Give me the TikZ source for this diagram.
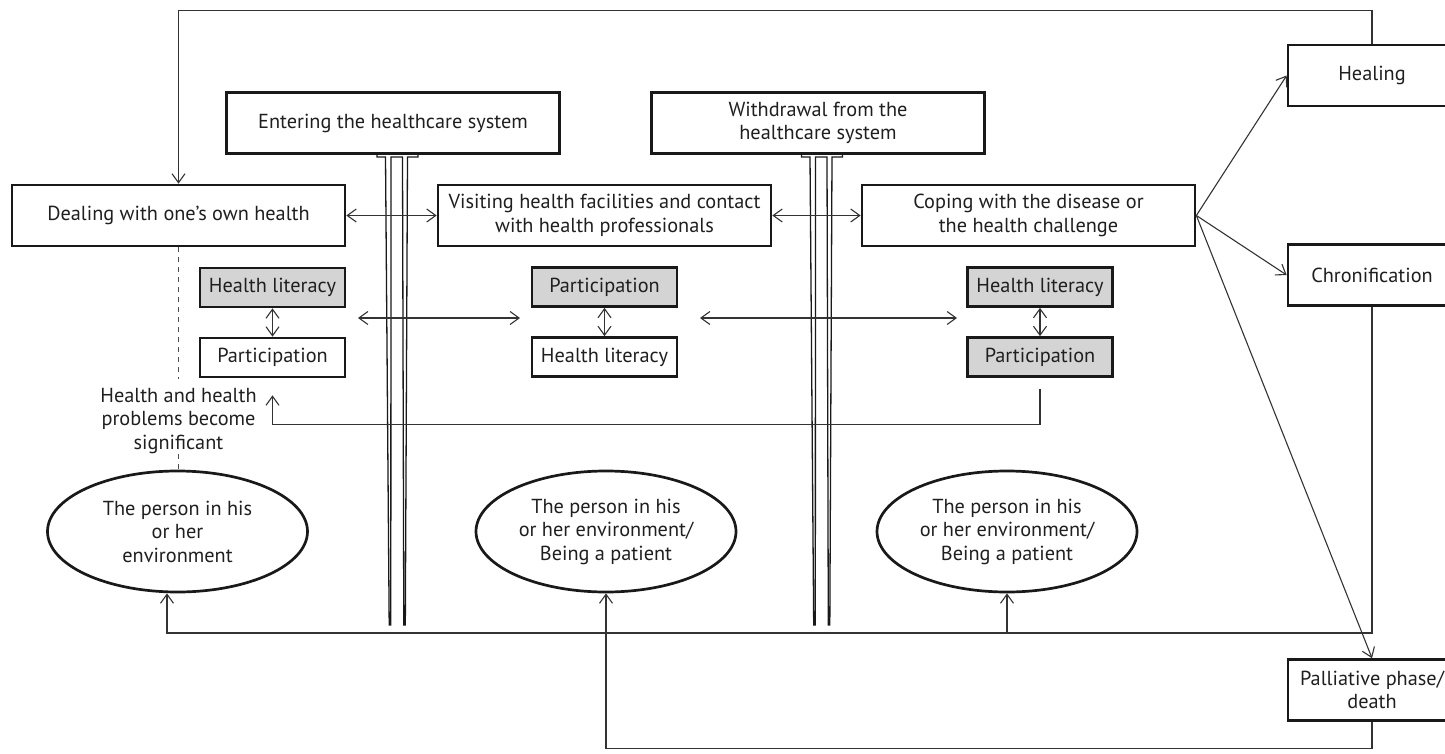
\documentclass[tikz,border=0pt]{standalone}
\usepackage{fontspec}
\setmainfont{PT Sans}
\usetikzlibrary{shapes.geometric,arrows.meta}

\begin{document}
\begin{tikzpicture}[x=1pt,y=-1pt,
    font=\fontsize{20.3}{23.5}\selectfont,
    >={Straight Barb[length=9pt,width=13pt]},
    stagebox/.style={draw=black!90,line width=2.7pt,text=black!88,align=center,
      minimum width=333pt,minimum height=61pt,inner sep=0pt},
    sidebox/.style={stagebox,minimum width=168pt},
    skillbox/.style={draw=black!90,line width=2.7pt,text=black!88,
      minimum width=145pt,minimum height=39pt,inner sep=0pt},
    greyfill/.style={fill=black!17},
    person/.style={ellipse,draw=black!90,line width=2.7pt,text=black!88,align=center,
      minimum width=260pt,minimum height=121pt,inner sep=0pt},
    conn/.style={draw=black!80,line width=1.1pt},
    cue/.style={draw=black!70,line width=1pt,dash pattern=on 5pt off 5pt},
    pillar/.style={draw=black!90,line width=1.3pt,fill=white}]
  \useasboundingbox (0,0) rectangle (1445,754);

  % the two gates into and out of the healthcare system
  \foreach \px in {397.5,822}
    \draw[pillar] (\px-20.5,153) -- (\px-20.5,157) -- (\px-12,157) -- (\px-8.3,625)
      -- (\px-6.7,625) -- (\px-6.5,157) -- (\px+5,157) -- (\px+6.3,625)
      -- (\px+7.8,625) -- (\px+10,157) -- (\px+20.5,157) -- (\px+20.5,153) -- cycle;

  % stages
  \node[stagebox] (enter) at (393,123) {Entering the healthcare system};
  \node[stagebox] (withdraw) at (818,123) {Withdrawal from the\\healthcare system};
  \node[stagebox] (deal) at (178.5,215.5) {Dealing with one’s own health};
  \node[stagebox] (visit) at (604.5,215.5) {Visiting health facilities and contact\\with health professionals};
  \node[stagebox] (cope) at (1028.5,215.5) {Coping with the disease or\\the health challenge};

  % outcomes
  \node[sidebox] (heal) at (1372,75.5) {Healing};
  \node[sidebox] (chron) at (1372,275) {Chronification};
  \node[sidebox] (pall) at (1372,690) {Palliative phase/\\death};

  % health literacy and participation
  \node[skillbox,greyfill] (hl1) at (272.5,287.5) {Health literacy};
  \node[skillbox] (pa1) at (272.5,357.5) {Participation};
  \node[skillbox,greyfill] (pa2) at (604.5,287) {Participation};
  \node[skillbox] (hl2) at (604.5,357) {Health literacy};
  \node[skillbox,greyfill] (hl3) at (1040,287) {Health literacy};
  \node[skillbox,greyfill] (pa3) at (1040,357) {Participation};

  \node[align=center,text=black!88,inner ysep=0pt] (signif) at (178.5,421) {Health and health\\problems become\\significant};

  % the person
  \node[person] (env1) at (177.5,531.5) {The person in his\\or her\\environment};
  \node[person] (env2) at (606,531.5) {The person in his\\or her environment/\\Being a patient};
  \node[person] (env3) at (1007,531.5) {The person in his\\or her environment/\\Being a patient};

  \coordinate (lnk1) at (358,318);
  \coordinate (lnk2) at (520,318);
  \coordinate (lnk3) at (700,318);
  \coordinate (lnk4) at (957,318);
  \coordinate (ret) at (167,633);

  % connectors
  \draw[conn,->] (heal.north) -- ++(0,-33) -| (deal.north);
  \draw[conn,<->] (deal.east) -- (visit.west);
  \draw[conn,<->] (visit.east) -- (cope.west);
  \draw[conn,->] (cope.east) -- (heal.west);
  \draw[conn,->] (cope.east) -- (chron.west);
  \draw[conn,->] (cope.east) -- (pall.north);
  \draw[conn,<->] (hl1) -- (pa1);
  \draw[conn,<->] (pa2) -- (hl2);
  \draw[conn,<->] (hl3) -- (pa3);
  \draw[conn,<->] (lnk1) -- (lnk2);
  \draw[conn,<->] (lnk3) -- (lnk4);
  \draw[conn,->,shorten <=11pt,shorten >=17pt] (pa3.south) -- ++(0,47) -| (pa1.south);
  \draw[cue,shorten >=9pt] (deal.south) -- (signif.north);
  \draw[cue] (signif.south) -- (signif.south |- env1.north);
  \draw[conn,->] (chron.south) |- (ret) -- (ret |- env1.south);
  \draw[conn,->] (env3.south |- ret) -- (env3.south);
  \draw[conn,->] (pall.south) -- ++(0,27) -| (env2.south);
\end{tikzpicture}
\end{document}
